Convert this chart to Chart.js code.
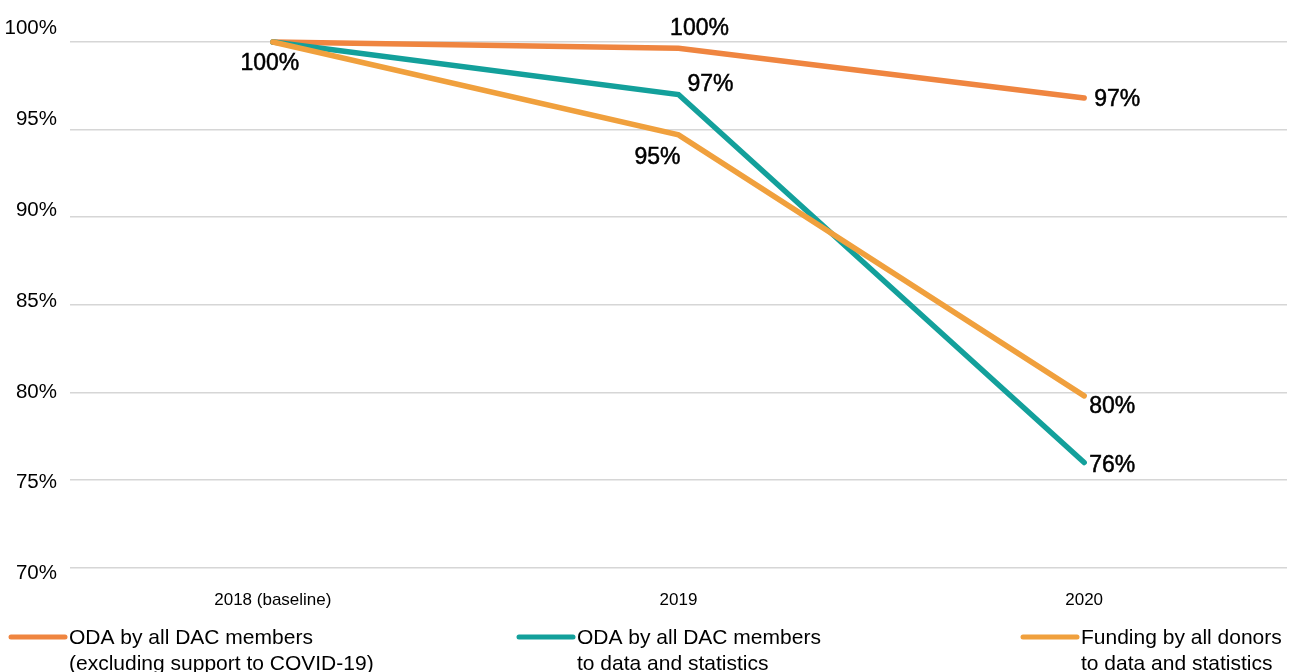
<!DOCTYPE html>
<html>
<head>
<meta charset="utf-8">
<title>ODA trends</title>
<script src="https://cdn.jsdelivr.net/npm/chart.js@4/dist/chart.umd.min.js"></script>
<style>
  html, body { margin: 0; padding: 0; background: #ffffff; overflow: hidden; }
  #chart { display: block; }
</style>
</head>
<body>
<canvas id="chart" width="1290" height="672"></canvas>
<script>
// Categories and series (index, 2018 = 100%)
const categories = ['2018 (baseline)', '2019', '2020'];
const odaExclCovid = [100, 99.64, 96.8];
const odaDataStats = [100, 97.0, 76.0];
const allDonorsDataStats = [100, 94.7, 79.8];
const yTicks = [70, 75, 80, 85, 90, 95, 100];

const seriesLabels = [
  ['ODA by all DAC members', '(excluding support to COVID-19)'],
  ['ODA by all DAC members', 'to data and statistics'],
  ['Funding by all donors', 'to data and statistics']
];

const FONT = '"Liberation Sans", Arial, sans-serif';

// Value labels: offset from each point, null = no label
const labelOffsets = [
  [{dx: -3, dy: 22}, {dx: 21, dy: -20}, {dx: 33, dy: 2}],
  [null, {dx: 32, dy: -10}, {dx: 28, dy: 3}],
  [null, {dx: -21, dy: 23}, {dx: 28, dy: 11}]
];

const valueLabels = {
  id: 'valueLabels',
  afterDatasetsDraw(chart) {
    const ctx = chart.ctx;
    ctx.save();
    ctx.font = '23px ' + FONT;
    ctx.fillStyle = '#000000';
    ctx.strokeStyle = '#000000';
    ctx.lineWidth = 0.5;
    ctx.textAlign = 'center';
    ctx.textBaseline = 'middle';
    chart.data.datasets.forEach((ds, di) => {
      const meta = chart.getDatasetMeta(di);
      meta.data.forEach((pt, i) => {
        const off = labelOffsets[di][i];
        if (!off) return;
        const t = Math.round(ds.data[i]) + '%';
        ctx.fillText(t, pt.x + off.dx, pt.y + off.dy);
        ctx.strokeText(t, pt.x + off.dx, pt.y + off.dy);
      });
    });
    ctx.restore();
  }
};

// Y tick labels: set on a slightly looser pitch than the gridlines,
// starting a little above the top line
const yLabelLead = -13.5;
const yLabelStretch = 90.75 / 87.5;
const yTickLabels = {
  id: 'yTickLabels',
  afterDraw(chart) {
    const scale = chart.scales.y;
    const ctx = chart.ctx;
    ctx.save();
    ctx.font = '20.5px ' + FONT;
    ctx.fillStyle = '#000000';
    ctx.textAlign = 'right';
    ctx.textBaseline = 'middle';
    scale.ticks.forEach(t => {
      const py = scale.getPixelForValue(t.value);
      const y = scale.top + yLabelLead + (py - scale.top) * yLabelStretch;
      ctx.fillText(t.value + '%', chart.chartArea.left - 13, y);
    });
    ctx.restore();
  }
};

// Legend spread along the bottom edge, two-line labels
const legendSlots = [9, 517, 1021];
const bottomLegend = {
  id: 'bottomLegend',
  afterDraw(chart) {
    const ctx = chart.ctx;
    ctx.save();
    ctx.font = '21px ' + FONT;
    ctx.textBaseline = 'middle';
    ctx.fillStyle = '#000000';
    chart.data.datasets.forEach((ds, di) => {
      const x = legendSlots[di];
      const y = 637;
      ctx.strokeStyle = ds.borderColor;
      ctx.lineWidth = 5;
      ctx.lineCap = 'round';
      ctx.beginPath();
      ctx.moveTo(x + 2, y);
      ctx.lineTo(x + 56, y);
      ctx.stroke();
      ds.label.forEach((t, k) => {
        ctx.fillText(t, x + 60, y + 1 + k * 26);
      });
    });
    ctx.restore();
  }
};

const commonLine = {
  borderWidth: 5.5,
  pointRadius: 0,
  pointHoverRadius: 0,
  tension: 0,
  borderCapStyle: 'round',
  borderJoinStyle: 'miter',
  clip: false,
  fill: false
};

new Chart(document.getElementById('chart'), {
  type: 'line',
  data: {
    labels: categories,
    datasets: [
      Object.assign({label: seriesLabels[0], data: odaExclCovid, borderColor: '#EF8540', order: 2}, commonLine),
      Object.assign({label: seriesLabels[1], data: odaDataStats, borderColor: '#13A09B', order: 1}, commonLine),
      Object.assign({label: seriesLabels[2], data: allDonorsDataStats, borderColor: '#F0A03D', order: 0}, commonLine)
    ]
  },
  options: {
    responsive: false,
    maintainAspectRatio: false,
    animation: false,
    devicePixelRatio: 1,
    layout: { padding: { top: 42, right: 3, bottom: 38, left: 0 } },
    plugins: {
      legend: { display: false },
      tooltip: { enabled: false }
    },
    scales: {
      x: {
        offset: true,
        grid: { display: false, drawTicks: false },
        border: { display: false },
        ticks: {
          color: '#000000',
          font: { family: FONT, size: 17 },
          padding: 23,
          maxRotation: 0
        }
      },
      y: {
        min: 70,
        max: 100,
        afterBuildTicks(scale) {
          scale.ticks = yTicks.map(v => ({ value: v }));
        },
        afterFit(scale) {
          scale.width = 70;
        },
        grid: { color: '#d6d6d6', lineWidth: 1.5, drawTicks: false },
        border: { display: false },
        ticks: { display: false }
      }
    }
  },
  plugins: [valueLabels, yTickLabels, bottomLegend]
});
</script>
</body>
</html>
